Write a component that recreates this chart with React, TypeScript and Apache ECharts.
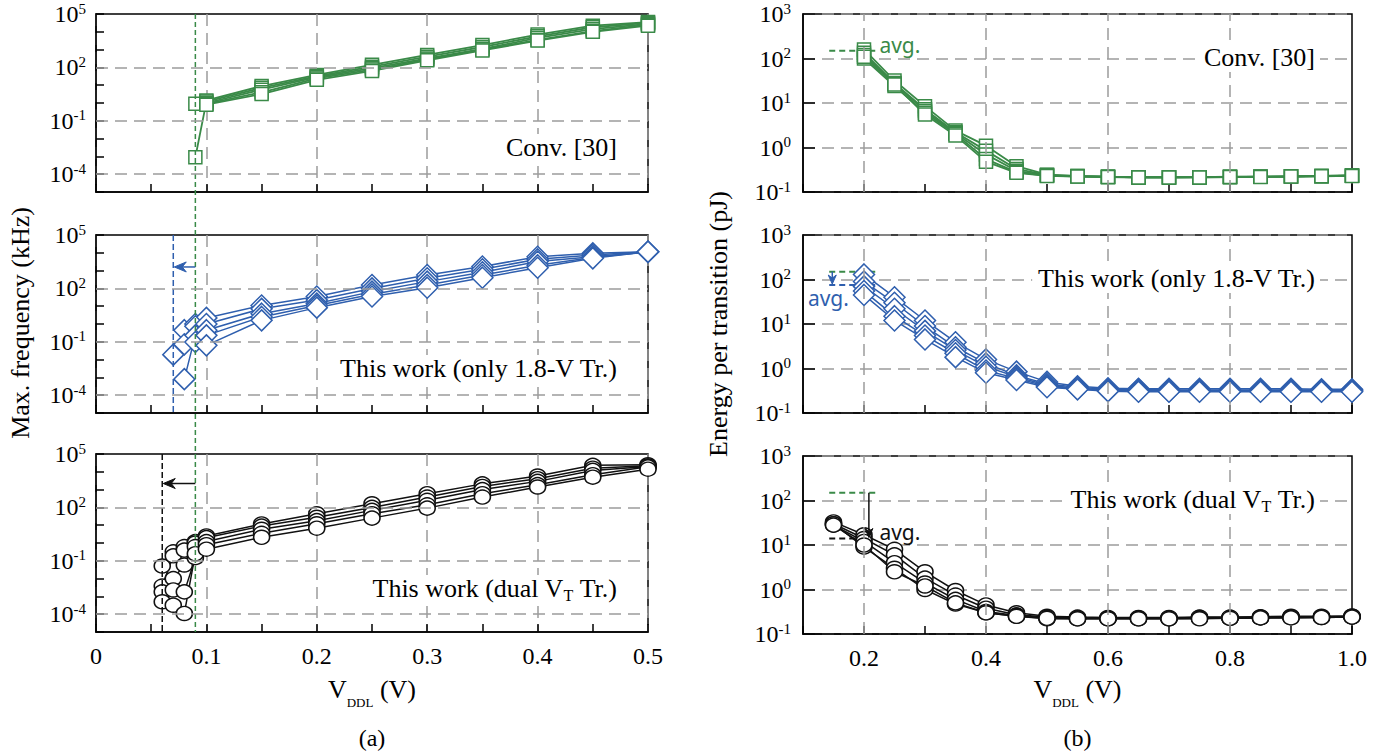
import React, { useEffect, useRef } from 'react';
import * as echarts from 'echarts';

// ---------------- data ----------------
// supply voltage V_DDL (V)
const vLeft = [0.06, 0.07, 0.08, 0.09, 0.1, 0.15, 0.2, 0.25, 0.3, 0.35, 0.4, 0.45, 0.5];
const vRight = [0.15, 0.2, 0.25, 0.3, 0.35, 0.4, 0.45, 0.5, 0.55, 0.6, 0.65, 0.7, 0.75, 0.8, 0.85, 0.9, 0.95, 1.0];

// max. frequency (kHz) - Conv. [30]
const convFreq1 = [null, null, null, 0.9, 1.4, 8.9, 38, 140, 500, 1800, 7000, 22000, 35000];
const convFreq2 = [null, null, null, 0.0009, 1.2, 7.1, 32, 110, 400, 1400, 5600, 18000, 32000];
const convFreq3 = [null, null, null, null, 1.0, 5.6, 28, 90, 320, 1100, 4500, 14000, 28000];
const convFreq4 = [null, null, null, null, 0.9, 4.0, 24, 76, 280, 1000, 3500, 11000, 25000];
const convFreq5 = [null, null, null, null, 0.8, 3.2, 20, 63, 250, 900, 3200, 10000, 22000];

// max. frequency (kHz) - this work (only 1.8-V Tr.)
const onlyFreq1 = [null, null, 0.45, 1.0, 2.2, 11, 35, 155, 560, 1700, 6000, 9300, 11500];
const onlyFreq2 = [null, 0.019, 0.072, 0.74, 1.0, 7.1, 22, 100, 370, 1200, 4300, 7600, 11500];
const onlyFreq3 = [null, null, 0.0008, 0.23, 0.45, 3.8, 14, 66, 240, 800, 3200, 6000, 11000];
const onlyFreq4 = [null, null, null, 0.098, 0.23, 2.5, 11, 47, 155, 560, 2000, 5400, 11500];
const onlyFreq5 = [null, null, null, null, 0.063, 1.6, 8.3, 35, 110, 400, 1450, 4900, 11500];

// max. frequency (kHz) - this work (dual VT Tr.)
const dualFreq1 = [0.051, 0.32, 0.63, 1.2, 2.5, 11.7, 44, 160, 590, 2100, 5800, 23000, 25000];
const dualFreq2 = [0.0038, 0.19, 0.4, 1.0, 2.0, 8.9, 28, 100, 380, 1500, 4100, 16000, 22000];
const dualFreq3 = [0.0018, 0.01, 0.058, 0.63, 1.2, 5.9, 18, 68, 250, 1000, 2900, 12000, 20000];
const dualFreq4 = [0.0005, 0.0023, 0.0018, 0.15, 0.8, 3.5, 12, 44, 140, 590, 1900, 6900, 19000];
const dualFreq5 = [null, 0.00032, 0.00011, 0.25, 0.45, 2.1, 6.8, 25, 91, 380, 1400, 5000, 14000];

// energy per transition (pJ) - Conv. [30]
const convEnergy1 = [null, 160, 32, 8.5, 2.4, 1.1, 0.38, 0.245, 0.23, 0.22, 0.215, 0.215, 0.215, 0.22, 0.22, 0.225, 0.23, 0.235];
const convEnergy2 = [null, 135, 28, 7.2, 2.2, 0.85, 0.33, 0.24, 0.228, 0.22, 0.215, 0.215, 0.215, 0.218, 0.22, 0.225, 0.23, 0.235];
const convEnergy3 = [null, 120, 27, 6.6, 2.1, 0.7, 0.3, 0.235, 0.225, 0.218, 0.213, 0.213, 0.215, 0.218, 0.22, 0.223, 0.228, 0.233];
const convEnergy4 = [null, 100, 24, 6.0, 2.0, 0.55, 0.28, 0.232, 0.225, 0.218, 0.213, 0.213, 0.213, 0.217, 0.22, 0.222, 0.227, 0.232];
const convEnergy5 = [null, 110, 26, 5.5, 1.85, 0.48, 0.27, 0.23, 0.222, 0.216, 0.212, 0.212, 0.213, 0.216, 0.218, 0.222, 0.226, 0.23];

// energy per transition (pJ) - this work (only 1.8-V Tr.)
const onlyEnergy1 = [null, 130, 40, 12, 3.9, 1.6, 0.85, 0.5, 0.4, 0.36, 0.35, 0.35, 0.35, 0.35, 0.35, 0.35, 0.34, 0.34];
const onlyEnergy2 = [null, 90, 30, 9, 3.0, 1.3, 0.7, 0.45, 0.38, 0.34, 0.34, 0.33, 0.33, 0.33, 0.33, 0.33, 0.33, 0.33];
const onlyEnergy3 = [null, 70, 22, 7, 2.6, 1.1, 0.65, 0.42, 0.36, 0.33, 0.32, 0.32, 0.32, 0.32, 0.32, 0.32, 0.32, 0.32];
const onlyEnergy4 = [null, 55, 15, 5.5, 2.2, 0.9, 0.6, 0.4, 0.35, 0.32, 0.31, 0.31, 0.31, 0.31, 0.31, 0.31, 0.31, 0.31];
const onlyEnergy5 = [null, 45, 12, 4.5, 1.8, 0.8, 0.55, 0.38, 0.34, 0.31, 0.3, 0.3, 0.3, 0.3, 0.3, 0.3, 0.3, 0.3];

// energy per transition (pJ) - this work (dual VT Tr.)
const dualEnergy1 = [33, 17, 8, 2.5, 0.95, 0.45, 0.3, 0.25, 0.24, 0.235, 0.235, 0.235, 0.24, 0.24, 0.245, 0.25, 0.25, 0.255];
const dualEnergy2 = [30, 14, 6, 1.8, 0.75, 0.38, 0.27, 0.24, 0.23, 0.23, 0.23, 0.23, 0.235, 0.235, 0.24, 0.245, 0.245, 0.25];
const dualEnergy3 = [28, 12, 4, 1.4, 0.6, 0.32, 0.26, 0.23, 0.225, 0.225, 0.225, 0.225, 0.23, 0.23, 0.235, 0.24, 0.24, 0.245];
const dualEnergy4 = [30, 9, 3, 1.0, 0.47, 0.3, 0.25, 0.22, 0.22, 0.22, 0.22, 0.22, 0.225, 0.225, 0.23, 0.235, 0.235, 0.24];
const dualEnergy5 = [28, 10, 2.5, 1.2, 0.5, 0.3, 0.25, 0.225, 0.22, 0.22, 0.22, 0.22, 0.22, 0.225, 0.23, 0.23, 0.235, 0.24];

// axis ticks (exponents / voltages)
const leftYLabelExp = [-4, -1, 2, 5];
const leftYGridExp = [-4, -1, 2];
const rightXGrid = [0.2, 0.4, 0.6, 0.8];

// annotation values
const convMinV = 0.09;
const onlyMinV = 0.07;
const dualMinV = 0.06;
const onlyArrowLevel = 1600; // kHz
const dualArrowLevel = 2200; // kHz
const avgMarkV = [0.143, 0.222];
const convAvg = 150; // pJ
const onlyAvg = 75; // pJ
const dualAvg = 14; // pJ

// ---------------- styles ----------------
const SERIF = 'Liberation Serif';
const SANS = 'Noto Sans';
const GREEN = '#3a8a48';
const BLUE = '#2f5fae';
const BLACK = '#111111';
const GRID_GRAY = '#9c9c9c';

const L_LEFT = 96, L_W = 552;
const R_LEFT = 803, R_W = 549;
const TOPS_L = [14, 235, 454];
const TOPS_R = [14, 235, 456];
const H = 178;

const axisLine = { color: '#000', width: 1.5 };
const gridLine = { color: GRID_GRAY, width: 1.5, type: [12, 7] as any };

const supRich = {
  b: { fontFamily: SERIF, fontSize: 24, color: '#000', lineHeight: 26, verticalAlign: 'middle' },
  s: { fontFamily: SERIF, fontSize: 15, color: '#000', lineHeight: 14, verticalAlign: 'top' },
};

const lg = (v: number) => Math.log10(v);

function pairs(xs: number[], ys: (number | null)[]) {
  const out: number[][] = [];
  xs.forEach((x, i) => {
    const y = ys[i];
    if (y != null) out.push([x, lg(y)]);
  });
  return out;
}

function lineSeries(g: number, xs: number[], ys: (number | null)[], color: string, symbol: string, size: any, lw: number) {
  return {
    type: 'line',
    xAxisIndex: g,
    yAxisIndex: g,
    data: pairs(xs, ys),
    symbol,
    symbolSize: size,
    showSymbol: true,
    silent: true,
    z: 3,
    emphasis: { disabled: true },
    lineStyle: { color, width: lw },
    itemStyle: { color: '#ffffff', borderColor: color, borderWidth: 1.5 },
  };
}

function gridSeries(g: number, data: any[]) {
  return {
    type: 'line',
    xAxisIndex: g,
    yAxisIndex: g,
    data: [],
    silent: true,
    z: 1,
    markLine: {
      silent: true,
      symbol: ['none', 'none'],
      label: { show: false },
      emphasis: { disabled: true },
      lineStyle: gridLine,
      data,
    },
  };
}

function buildOption() {
  const grid: any[] = [];
  const xAxis: any[] = [];
  const yAxis: any[] = [];
  for (let i = 0; i < 3; i++) {
    grid.push({ left: L_LEFT, top: TOPS_L[i], width: L_W, height: H, show: true, borderColor: '#000', borderWidth: 1.5, backgroundColor: 'transparent' });
    xAxis.push({
      type: 'value', gridIndex: i, min: 0, max: 0.5, interval: 0.1,
      axisLine: { show: true, onZero: false, lineStyle: axisLine },
      axisTick: { show: true, inside: true, length: 8, lineStyle: axisLine },
      minorTick: { show: true, splitNumber: 2, length: 8, lineStyle: axisLine },
      splitLine: { show: true, lineStyle: gridLine },
      axisLabel: {
        show: i === 2, margin: 12, fontFamily: SERIF, fontSize: 24, color: '#000',
        formatter: (v: number) => (Math.abs(v) < 1e-9 ? '0' : v.toFixed(1)),
      },
    });
    yAxis.push({
      type: 'value', gridIndex: i, min: -5, max: 5, interval: 1,
      axisLine: { show: true, onZero: false, lineStyle: axisLine },
      axisTick: { show: true, inside: true, length: 8, lineStyle: axisLine },
      splitLine: { show: false },
      axisLabel: {
        margin: 10,
        formatter: (v: number) => {
          const r = Math.round(v);
          return leftYLabelExp.includes(r) ? `{b|10}{s|${r}}` : '';
        },
        rich: supRich,
      },
    });
  }
  for (let i = 0; i < 3; i++) {
    grid.push({ left: R_LEFT, top: TOPS_R[i], width: R_W, height: H, show: true, borderColor: '#000', borderWidth: 1.5, backgroundColor: 'transparent' });
    xAxis.push({
      type: 'value', gridIndex: 3 + i, min: 0.1, max: 1.0, interval: 0.1,
      axisLine: { show: true, onZero: false, lineStyle: axisLine },
      axisTick: { show: true, inside: true, length: 8, lineStyle: axisLine },
      splitLine: { show: false },
      axisLabel: {
        show: i === 2, margin: 12, fontFamily: SERIF, fontSize: 24, color: '#000',
        formatter: (v: number) => (Math.round(v * 10) % 2 === 0 ? v.toFixed(1) : ''),
      },
    });
    yAxis.push({
      type: 'value', gridIndex: 3 + i, min: -1, max: 3, interval: 1,
      axisLine: { show: true, onZero: false, lineStyle: axisLine },
      axisTick: { show: true, inside: true, length: 12, lineStyle: axisLine },
      splitLine: { show: true, lineStyle: gridLine },
      axisLabel: {
        margin: 12,
        formatter: (v: number) => `{b|10}{s|${Math.round(v)}}`,
        rich: supRich,
      },
    });
  }

  const sq = 13, dm = 21, cl = [16, 14];
  const series: any[] = [
    gridSeries(0, leftYGridExp.map((e) => ({ yAxis: e }))),
    gridSeries(1, leftYGridExp.map((e) => ({ yAxis: e }))),
    gridSeries(2, leftYGridExp.map((e) => ({ yAxis: e }))),
    gridSeries(3, rightXGrid.map((v) => ({ xAxis: v }))),
    gridSeries(4, rightXGrid.map((v) => ({ xAxis: v }))),
    gridSeries(5, rightXGrid.map((v) => ({ xAxis: v }))),
  ];
  [convFreq1, convFreq2, convFreq3, convFreq4, convFreq5].forEach((d) => series.push(lineSeries(0, vLeft, d, GREEN, 'rect', sq, 1.8)));
  [onlyFreq1, onlyFreq2, onlyFreq3, onlyFreq4, onlyFreq5].forEach((d) => series.push(lineSeries(1, vLeft, d, BLUE, 'diamond', dm, 1.5)));
  [dualFreq1, dualFreq2, dualFreq3, dualFreq4, dualFreq5].forEach((d) => series.push(lineSeries(2, vLeft, d, BLACK, 'circle', cl, 1.5)));
  [convEnergy1, convEnergy2, convEnergy3, convEnergy4, convEnergy5].forEach((d) => series.push(lineSeries(3, vRight, d, GREEN, 'rect', sq, 1.8)));
  [onlyEnergy1, onlyEnergy2, onlyEnergy3, onlyEnergy4, onlyEnergy5].forEach((d) => series.push(lineSeries(4, vRight, d, BLUE, 'diamond', dm, 1.5)));
  [dualEnergy1, dualEnergy2, dualEnergy3, dualEnergy4, dualEnergy5].forEach((d) => series.push(lineSeries(5, vRight, d, BLACK, 'circle', cl, 1.5)));

  return {
    animation: false,
    backgroundColor: '#ffffff',
    grid,
    xAxis,
    yAxis,
    series,
  };
}

const labelRich = {
  n: { fontFamily: SERIF, fontSize: 26, color: '#000', lineHeight: 28, verticalAlign: 'top' },
  sub: { fontFamily: SERIF, fontSize: 16, color: '#000', lineHeight: 18, verticalAlign: 'bottom' },
};

function buildGraphics(chart: any) {
  const px = (g: number, x: number, y: number) => chart.convertToPixel({ xAxisIndex: g, yAxisIndex: g }, [x, y]) as number[];
  const els: any[] = [];
  const dashLine = (x1: number, y1: number, x2: number, y2: number, color: string, w: number, dash: number[], z = 1) =>
    els.push({ type: 'line', silent: true, z, shape: { x1, y1, x2, y2 }, style: { stroke: color, lineWidth: w, lineDash: dash } });
  const solid = (x1: number, y1: number, x2: number, y2: number, color: string) =>
    els.push({ type: 'line', silent: true, z: 6, shape: { x1, y1, x2, y2 }, style: { stroke: color, lineWidth: 1.5 } });
  const head = (pts: number[][], color: string) =>
    els.push({ type: 'polygon', silent: true, z: 6, shape: { points: pts }, style: { fill: color, stroke: color, lineWidth: 1 } });

  const lTop = (g: number) => px(g, 0, 5)[1];
  const lBot = (g: number) => px(g, 0, -5)[1];

  // minimum operating voltage markers (left)
  const xg = px(0, convMinV, 0)[0];
  dashLine(xg, lTop(0), xg, lBot(2), GREEN, 1.5, [5, 3], 4);
  const xb = px(1, onlyMinV, 0)[0];
  dashLine(xb, lTop(1), xb, lBot(1), BLUE, 1.5, [6, 3], 4);
  const ay1 = px(1, 0, lg(onlyArrowLevel))[1];
  solid(xg, ay1, xb + 8, ay1, BLUE);
  head([[xb + 1, ay1], [xb + 13, ay1 - 5], [xb + 9, ay1], [xb + 13, ay1 + 5]], BLUE);
  const xk = px(2, dualMinV, 0)[0];
  dashLine(xk, lTop(2), xk, lBot(2), BLACK, 1.5, [6, 3], 4);
  const ay2 = px(2, 0, lg(dualArrowLevel))[1];
  solid(xg, ay2, xk + 8, ay2, BLACK);
  head([[xk + 1, ay2], [xk + 13, ay2 - 5], [xk + 9, ay2], [xk + 13, ay2 + 5]], BLACK);

  // avg. marks (right)
  const ax1 = px(3, avgMarkV[0], 0)[0];
  const ax2 = px(3, avgMarkV[1], 0)[0];
  const avgText = (x: number, y: number, color: string) =>
    els.push({ type: 'text', silent: true, z: 7, x, y, style: { text: 'avg.', fontFamily: SANS, fontSize: 21, fill: color, align: 'left', verticalAlign: 'middle' } });

  const g1 = px(3, 0, lg(convAvg))[1];
  dashLine(ax1, g1, ax2, g1, GREEN, 2, [6, 4]);
  avgText(ax2 + 2, g1 - 6, GREEN);

  const g2 = px(4, 0, lg(convAvg))[1];
  const b2 = px(4, 0, lg(onlyAvg))[1];
  dashLine(ax1, g2, ax2, g2, GREEN, 2, [6, 4]);
  dashLine(ax1, b2, ax2, b2, BLUE, 2, [6, 4]);
  const arx2 = px(4, 0.148, 0)[0];
  solid(arx2, g2, arx2, b2 - 6, BLUE);
  head([[arx2, b2 - 1], [arx2 - 4, b2 - 10], [arx2, b2 - 7], [arx2 + 4, b2 - 10]], BLUE);
  avgText(px(4, 0.108, 0)[0], b2 + 13, BLUE);

  const g3 = px(5, 0, lg(convAvg))[1];
  const k3 = px(5, 0, lg(dualAvg))[1];
  const kx2 = px(5, 0.205, 0)[0];
  dashLine(ax1, g3, ax2, g3, GREEN, 2, [6, 4]);
  dashLine(ax1, k3, kx2, k3, BLACK, 2, [6, 4]);
  const arx3 = px(5, 0.208, 0)[0];
  solid(arx3, g3, arx3, k3 - 6, BLACK);
  head([[arx3, k3 - 1], [arx3 - 4, k3 - 10], [arx3, k3 - 7], [arx3 + 4, k3 - 10]], BLACK);
  avgText(ax2 + 2, k3 - 6, BLACK);

  // panel labels
  const panelLabel = (text: string, xRight: number, yc: number) =>
    els.push({
      type: 'text', silent: true, z: 8, x: xRight, y: yc,
      style: { text, rich: labelRich, align: 'right', verticalAlign: 'middle', backgroundColor: '#ffffff', padding: [0, 5] },
    });
  const lRight = L_LEFT + L_W - 26;
  const rRight = R_LEFT + R_W - 32;
  panelLabel('{n|Conv. [30]}', lRight, TOPS_L[0] + 134);
  panelLabel('{n|This work (only 1.8-V Tr.)}', lRight, TOPS_L[1] + 134);
  panelLabel('{n|This work (dual V}{sub|T}{n| Tr.)}', lRight, TOPS_L[2] + 135);
  panelLabel('{n|Conv. [30]}', rRight, TOPS_R[0] + 44);
  panelLabel('{n|This work (only 1.8-V Tr.)}', rRight, TOPS_R[1] + 44);
  panelLabel('{n|This work (dual V}{sub|T}{n| Tr.)}', rRight, TOPS_R[2] + 44);

  // axis titles
  const xTitleRich = {
    n: { fontFamily: SERIF, fontSize: 26, color: '#000', lineHeight: 30, verticalAlign: 'top' },
    sub: { fontFamily: SERIF, fontSize: 13, color: '#000', lineHeight: 33, verticalAlign: 'bottom' },
  };
  const bottom = TOPS_L[2] + H;
  const xTitle = (cx: number) =>
    els.push({ type: 'text', silent: true, z: 8, x: cx, y: bottom + 44, style: { text: '{n|V}{sub|DDL}{n| (V)}', rich: xTitleRich, align: 'center', verticalAlign: 'top' } });
  xTitle(L_LEFT + L_W / 2);
  xTitle(R_LEFT + R_W / 2);
  const capt = (cx: number, t: string) =>
    els.push({ type: 'text', silent: true, z: 8, x: cx, y: bottom + 106, style: { text: t, fontFamily: SERIF, fontSize: 24, fill: '#000', align: 'center', verticalAlign: 'middle' } });
  capt(L_LEFT + L_W / 2, '(a)');
  capt(R_LEFT + R_W / 2, '(b)');

  const yTitle = (cx: number, cy: number, t: string) =>
    els.push({ type: 'text', silent: true, z: 8, x: cx, y: cy, rotation: Math.PI / 2, style: { text: t, fontFamily: SERIF, fontSize: 26, fill: '#000', align: 'center', verticalAlign: 'middle' } });
  yTitle(20, (TOPS_L[0] + bottom) / 2, 'Max. frequency (kHz)');
  yTitle(718, (TOPS_R[0] + TOPS_R[2] + H) / 2, 'Energy per transition (pJ)');

  return els;
}

export default function App() {
  const ref = useRef<HTMLDivElement>(null);
  useEffect(() => {
    document.body.style.margin = '0';
    const chart = echarts.init(ref.current!, undefined, { renderer: 'svg' });
    chart.setOption(buildOption() as any);
    chart.setOption({ graphic: buildGraphics(chart) } as any);
    return () => chart.dispose();
  }, []);
  return <div ref={ref} style={{ width: 1396, height: 752 }} />;
}
